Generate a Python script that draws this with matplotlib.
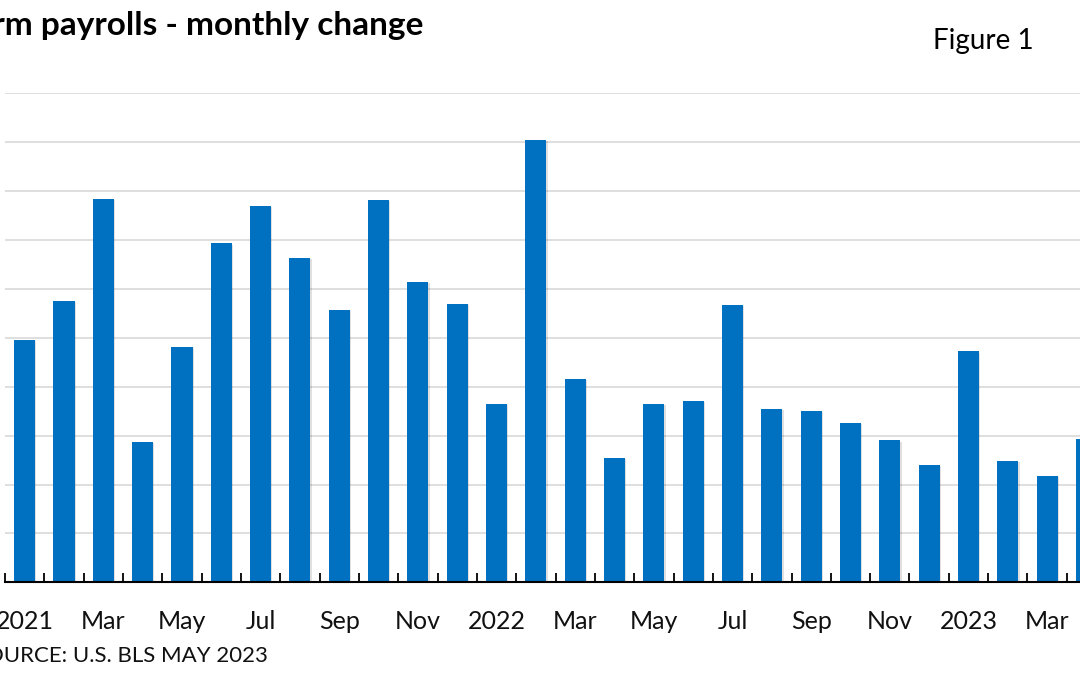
import matplotlib
matplotlib.use("Agg")
import matplotlib.pyplot as plt
import matplotlib.patheffects as pe
import numpy as np

months = ["Jan", "Feb", "Mar", "Apr", "May", "Jun", "Jul", "Aug", "Sep", "Oct", "Nov", "Dec",
          "Jan", "Feb", "Mar", "Apr", "May", "Jun", "Jul", "Aug", "Sep", "Oct", "Nov", "Dec",
          "Jan", "Feb", "Mar", "Apr"]
years = [2021] * 12 + [2022] * 12 + [2023] * 4
# monthly change (thousands)
values = [495, 576, 784, 287, 482, 693, 769, 664, 557, 782, 615, 570,
          365, 904, 415, 254, 365, 371, 568, 354, 351, 325, 290, 240,
          472, 249, 217, 294]
tick_labels = [str(y) if m == "Jan" else m for m, y in zip(months, years)]

W, H = 1080, 675
fig = plt.figure(figsize=(W / 100, H / 100), dpi=100)
plt.rcParams['font.family'] = ['Lato', 'DejaVu Sans']

left_px, spacing = 4.9, 39.33
n = len(values)
ax = fig.add_axes([left_px / W, (H - 582.3) / H, n * spacing / W, (582.3 - 93.3) / H])

x = np.arange(n)
bars = ax.bar(x, values, width=0.54, color="#0070C0", zorder=3)
for b in bars:
    b.set_path_effects([pe.SimplePatchShadow(offset=(0.8, -0.8), shadow_rgbFace="#000000", alpha=0.12),
                        pe.Normal()])

ax.set_xlim(-0.5, n - 0.5)
ax.set_ylim(0, 1000)
ax.set_yticks(np.arange(0, 1001, 100))
ax.yaxis.grid(True, color="#D9D9D9", linewidth=1.2, zorder=0)
ax.tick_params(axis="y", left=False, labelleft=False)

for s in ["left", "right", "top"]:
    ax.spines[s].set_visible(False)
ax.spines["bottom"].set_linewidth(1.5)
ax.spines["bottom"].set_color("black")
ax.spines["bottom"].set_zorder(4)

major = x[::2]
ax.set_xticks(major)
ax.set_xticklabels([tick_labels[i] for i in major], fontsize=18, color="#111111")
ax.tick_params(axis="x", which="major", length=0, pad=20)
ax.set_xticks(np.arange(-0.5, n, 1.0), minor=True)
ax.tick_params(axis="x", which="minor", direction="in", length=6.5, width=1.3, color="black")

fig.text(423 / W, 1 - 35 / H, "Nonfarm payrolls - monthly change", ha="right", va="baseline",
         fontsize=24, fontweight="bold", color="black")
fig.text(1034 / W, 1 - 49.5 / H, "Figure 1", ha="right", va="baseline", fontsize=20, color="black")
fig.text(268 / W, 1 - 662 / H, "SOURCE: U.S. BLS MAY 2023", ha="right", va="baseline",
         fontsize=16, color="#111111")

fig.savefig("out.png", dpi=100)
